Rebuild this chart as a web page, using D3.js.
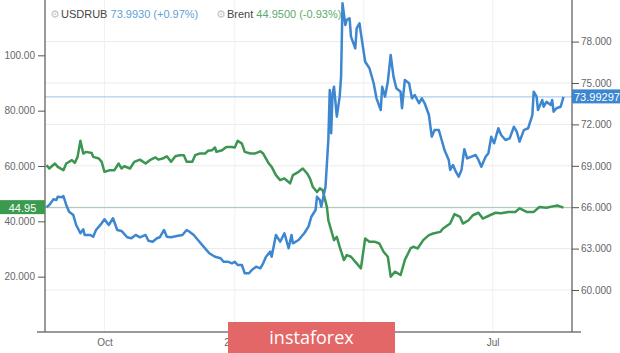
<!DOCTYPE html>
<html>
<head>
<meta charset="utf-8">
<script src="https://cdn.jsdelivr.net/npm/d3@7/dist/d3.min.js"></script>
<style>
  html, body { margin: 0; padding: 0; background: #fff; }
  svg { display: block; }
  text { font-family: "Liberation Sans", Arial, Helvetica, sans-serif; }
</style>
</head>
<body>
<svg id="chart" width="620" height="353"></svg>
<script>
// ---------- DATA ----------
const brentDates = ["2019-08-21","2019-08-23","2019-08-27","2019-08-29","2019-09-02","2019-09-04","2019-09-08","2019-09-10","2019-09-12","2019-09-14","2019-09-16","2019-09-18","2019-09-22","2019-09-23","2019-09-27","2019-09-29","2019-10-01","2019-10-05","2019-10-08","2019-10-11","2019-10-13","2019-10-15","2019-10-19","2019-10-22","2019-10-26","2019-10-30","2019-11-02","2019-11-06","2019-11-08","2019-11-11","2019-11-14","2019-11-17","2019-11-20","2019-11-23","2019-11-26","2019-11-28","2019-12-02","2019-12-04","2019-12-07","2019-12-11","2019-12-13","2019-12-16","2019-12-18","2019-12-19","2019-12-23","2019-12-26","2019-12-30","2020-01-01","2020-01-03","2020-01-06","2020-01-08","2020-01-12","2020-01-15","2020-01-19","2020-01-21","2020-01-25","2020-01-27","2020-01-30","2020-02-02","2020-02-05","2020-02-09","2020-02-11","2020-02-15","2020-02-18","2020-02-21","2020-02-23","2020-02-25","2020-02-28","2020-03-01","2020-03-03","2020-03-06","2020-03-07","2020-03-09","2020-03-11","2020-03-13","2020-03-15","2020-03-18","2020-03-20","2020-03-23","2020-03-27","2020-03-30","2020-04-02","2020-04-05","2020-04-09","2020-04-12","2020-04-15","2020-04-18","2020-04-20","2020-04-23","2020-04-27","2020-04-30","2020-05-04","2020-05-06","2020-05-09","2020-05-13","2020-05-17","2020-05-20","2020-05-25","2020-05-27","2020-06-01","2020-06-04","2020-06-08","2020-06-10","2020-06-14","2020-06-17","2020-06-21","2020-06-24","2020-06-29","2020-07-03","2020-07-07","2020-07-12","2020-07-17","2020-07-20","2020-07-25","2020-07-30","2020-08-03","2020-08-08","2020-08-13","2020-08-16","2020-08-20"];
const brentValues = [60.3,59.1,60.9,59.7,58.5,60.9,62.1,61.1,63.3,69.1,64.5,65.1,64.7,63.3,62.7,61.5,57.9,58.5,58.5,60.9,59.1,59.9,59.1,61.5,62.3,60.9,62.1,63.1,62.3,62.7,63.5,61.5,63.5,63.9,63.9,61.5,61.5,63.9,64.5,64.5,65.5,65.7,66.7,65.1,65.7,66.9,66.9,66.7,69.1,68.1,65.1,64.5,64.5,65.3,64.5,60.9,59.7,56.7,54.9,55.5,53.7,56.7,57.9,59.1,57.3,55.5,52.5,50.6,51.9,51.3,45.2,40.4,36.8,33.2,34.4,30.8,26.0,27.8,27.2,24.8,23.0,33.8,32.6,32.6,32.0,29.0,27.2,20.0,21.8,20.6,26.0,30.2,30.8,30.2,33.2,35.0,35.6,36.2,37.4,39.2,42.6,41.6,39.2,40.4,42.2,43.1,41.0,42.2,43.1,42.9,43.4,43.4,44.7,43.4,43.4,45.2,44.9,45.5,45.7,44.95];

const usdDates = ["2019-08-21","2019-08-23","2019-08-26","2019-08-28","2019-08-29","2019-09-01","2019-09-02","2019-09-04","2019-09-06","2019-09-09","2019-09-11","2019-09-14","2019-09-16","2019-09-17","2019-09-21","2019-09-23","2019-09-25","2019-09-29","2019-10-01","2019-10-04","2019-10-07","2019-10-10","2019-10-13","2019-10-17","2019-10-20","2019-10-23","2019-10-26","2019-10-30","2019-11-01","2019-11-04","2019-11-07","2019-11-09","2019-11-12","2019-11-14","2019-11-17","2019-11-21","2019-11-25","2019-11-28","2019-11-30","2019-12-03","2019-12-07","2019-12-11","2019-12-14","2019-12-18","2019-12-22","2019-12-24","2019-12-27","2019-12-30","2020-01-01","2020-01-03","2020-01-06","2020-01-08","2020-01-11","2020-01-13","2020-01-16","2020-01-19","2020-01-21","2020-01-23","2020-01-26","2020-01-27","2020-01-30","2020-02-02","2020-02-05","2020-02-08","2020-02-10","2020-02-11","2020-02-15","2020-02-19","2020-02-22","2020-02-24","2020-02-27","2020-02-28","2020-03-01","2020-03-02","2020-03-05","2020-03-06","2020-03-07","2020-03-08","2020-03-09","2020-03-10","2020-03-11","2020-03-13","2020-03-15","2020-03-16","2020-03-17","2020-03-19","2020-03-20","2020-03-22","2020-03-23","2020-03-26","2020-03-27","2020-03-29","2020-03-30","2020-04-02","2020-04-05","2020-04-08","2020-04-10","2020-04-13","2020-04-14","2020-04-16","2020-04-18","2020-04-20","2020-04-22","2020-04-24","2020-04-27","2020-04-28","2020-04-30","2020-05-03","2020-05-05","2020-05-07","2020-05-10","2020-05-12","2020-05-14","2020-05-17","2020-05-19","2020-05-21","2020-05-24","2020-05-26","2020-05-28","2020-05-31","2020-06-01","2020-06-03","2020-06-05","2020-06-07","2020-06-09","2020-06-11","2020-06-13","2020-06-16","2020-06-19","2020-06-21","2020-06-23","2020-06-26","2020-06-28","2020-06-30","2020-07-02","2020-07-05","2020-07-07","2020-07-10","2020-07-13","2020-07-16","2020-07-18","2020-07-20","2020-07-23","2020-07-26","2020-07-29","2020-07-30","2020-08-01","2020-08-02","2020-08-05","2020-08-06","2020-08-08","2020-08-11","2020-08-12","2020-08-13","2020-08-15","2020-08-18","2020-08-20"];
const usdValues = [66.0,66.16,66.57,66.52,66.76,66.72,66.81,66.16,65.67,65.43,64.71,64.11,64.40,63.99,63.99,63.86,64.35,64.83,65.12,64.71,65.20,64.35,64.28,63.82,63.75,63.99,63.82,63.99,63.57,63.50,63.75,63.82,64.35,63.86,63.82,63.91,63.99,64.35,64.22,63.99,63.50,63.02,62.66,62.41,62.30,62.05,62.05,61.93,62.05,61.81,61.81,61.21,61.21,61.45,61.69,61.57,61.93,62.41,62.78,62.41,63.99,63.50,64.11,63.02,63.99,63.38,63.62,64.11,64.59,65.31,65.80,66.76,66.52,66.04,67.49,69.18,70.87,74.49,71.36,74.25,74.73,72.56,74.01,75.46,80.78,79.20,79.57,79.69,78.36,77.51,78.96,79.33,78.60,76.54,76.07,74.98,73.89,73.04,74.73,74.01,75.09,77.03,75.46,74.62,74.37,73.17,75.22,74.98,73.89,74.13,73.53,73.89,73.53,72.68,71.11,71.59,71.59,70.87,70.14,69.42,68.70,69.06,68.57,68.21,68.70,70.20,69.54,69.66,69.78,69.42,68.93,69.66,69.91,71.11,70.63,71.72,71.23,70.87,70.99,71.83,71.47,70.75,71.59,71.72,72.68,74.37,74.01,73.04,73.77,73.28,73.64,73.41,73.77,72.92,73.17,73.28,73.993];

const leftTicks = [20, 40, 60, 80, 100];
const leftTickLabels = ["20.000", "40.000", "60.000", "80.000", "100.00"];
const rightTicks = [60, 63, 66, 69, 72, 75, 78];
const rightTickLabels = ["60.000", "63.000", "66.000", "69.000", "72.000", "75.000", "78.000"];
const xTickDates = ["2019-10-01", "2020-01-01", "2020-04-01", "2020-07-01"];
const xTickLabels = ["Oct", "2020", "Apr", "Jul"];

const usdName = "USDRUB", usdLegendValue = "73.9930 (+0.97%)", usdLast = 73.99297, usdLastLabel = "73.99297";
const brentName = "Brent", brentLegendValue = "44.9500 (-0.93%)", brentLast = 44.95, brentLastLabel = "44.95";

// ---------- LAYOUT ----------
const svg = d3.select("#chart");
const W = 620, H = 353;
const plotL = 45, plotR = 572, plotT = 0, plotB = 332;
const parse = d3.timeParse("%Y-%m-%d");

const x = d3.scaleTime()
  .domain([parse("2019-08-20"), parse("2020-08-26")])
  .range([plotL, plotR]);
const yL = d3.scaleLinear().domain([0, 120]).range([plotB, plotT]);
const yR = d3.scaleLinear().domain([60 - (plotB - 290) / 13.8, 60 + 290 / 13.8]).range([plotB, plotT]);

const blue = "#3d86d0", green = "#3c9550";

// gridlines
const grid = svg.append("g");
grid.selectAll("line.h").data(rightTicks).join("line")
  .attr("x1", plotL).attr("x2", plotR)
  .attr("y1", d => yR(d)).attr("y2", d => yR(d))
  .attr("stroke", "#ebebeb").attr("stroke-width", 1);
grid.selectAll("line.v").data(xTickDates).join("line")
  .attr("x1", d => x(parse(d))).attr("x2", d => x(parse(d)))
  .attr("y1", plotT).attr("y2", plotB)
  .attr("stroke", "#f1f1f1").attr("stroke-width", 1);

// reference lines
svg.append("line").attr("x1", plotL).attr("x2", plotR)
  .attr("y1", yR(usdLast)).attr("y2", yR(usdLast))
  .attr("stroke", "#9cc2e8").attr("stroke-width", 1);
svg.append("line").attr("x1", plotL).attr("x2", plotR)
  .attr("y1", yL(brentLast)).attr("y2", yL(brentLast))
  .attr("stroke", "#a6c6ae").attr("stroke-width", 1);

// series
const brentData = brentDates.map((d, i) => ({ date: parse(d), v: brentValues[i] }));
const usdData = usdDates.map((d, i) => ({ date: parse(d), v: usdValues[i] }));

svg.append("path").datum(brentData)
  .attr("fill", "none").attr("stroke", green).attr("stroke-width", 2.5)
  .attr("stroke-linejoin", "round")
  .attr("d", d3.line().x(d => x(d.date)).y(d => yL(d.v)));
svg.append("path").datum(usdData)
  .attr("fill", "none").attr("stroke", blue).attr("stroke-width", 2.5)
  .attr("stroke-linejoin", "round")
  .attr("d", d3.line().x(d => x(d.date)).y(d => yR(d.v)));

// axes
const axisColor = "#555";
const leftAxis = d3.axisLeft(yL).tickValues(leftTicks)
  .tickFormat((d, i) => leftTickLabels[i]).tickSize(7).tickPadding(3);
const gL = svg.append("g").attr("transform", `translate(${plotL},0)`).call(leftAxis);
const rightAxis = d3.axisRight(yR).tickValues(rightTicks)
  .tickFormat((d, i) => rightTickLabels[i]).tickSize(7).tickPadding(2);
const gR = svg.append("g").attr("transform", `translate(${plotR},0)`).call(rightAxis);
const bottomAxis = d3.axisBottom(x).tickValues(xTickDates.map(parse))
  .tickFormat((d, i) => xTickLabels[i]).tickSize(0).tickPadding(7);
const gB = svg.append("g").attr("transform", `translate(0,${plotB})`).call(bottomAxis);

[gL, gR, gB].forEach(g => {
  g.select(".domain").remove();
  g.selectAll(".tick line").attr("stroke", axisColor);
  g.selectAll(".tick text").attr("fill", "#666").style("font-size", "10px")
    .style("font-family", "'Liberation Sans', Arial, sans-serif");
});
// axis lines
svg.append("line").attr("x1", plotL).attr("x2", plotL).attr("y1", plotT).attr("y2", plotB)
  .attr("stroke", axisColor).attr("stroke-width", 1.2);
svg.append("line").attr("x1", plotR).attr("x2", plotR).attr("y1", plotT).attr("y2", plotB)
  .attr("stroke", axisColor).attr("stroke-width", 1.2);
svg.append("line").attr("x1", plotL - 8).attr("x2", plotR + 9).attr("y1", plotB).attr("y2", plotB)
  .attr("stroke", "#777").attr("stroke-width", 1.4);

// last value labels
const ry = yR(usdLast);
svg.append("rect").attr("x", plotR).attr("y", ry - 7.5).attr("width", W - plotR).attr("height", 14)
  .attr("fill", "#3b86cf");
svg.append("text").attr("x", plotR + 2).attr("y", ry + 4).attr("fill", "#fff")
  .style("font-size", "11px").text(usdLastLabel);
const ly = yL(brentLast);
svg.append("rect").attr("x", 0).attr("y", ly - 7.5).attr("width", plotL).attr("height", 14)
  .attr("fill", "#3a9a4e");
svg.append("text").attr("x", plotL / 2).attr("y", ly + 4).attr("text-anchor", "middle")
  .attr("fill", "#fff").style("font-size", "11px").text(brentLastLabel);

// legend
const legend = svg.append("g").style("font-size", "11px");
function legendItem(x0, name, val, color) {
  legend.append("text").attr("x", x0).attr("y", 18).attr("fill", "#c4c4c4")
    .style("font-family", "'DejaVu Sans', sans-serif").style("font-size", "11px").text("\u2699");
  const t = legend.append("text").attr("x", x0 + 11).attr("y", 18);
  t.append("tspan").attr("fill", "#444").text(name + " ");
  t.append("tspan").attr("fill", color).text(val);
}
legendItem(50, usdName, usdLegendValue, "#5e9fd6");
legendItem(216, brentName, brentLegendValue, "#5aab6b");

// watermark
svg.append("rect").attr("x", 228).attr("y", 322).attr("width", 167).attr("height", 31)
  .attr("fill", "#e46767");
svg.append("text").attr("x", 311.5).attr("y", 344).attr("text-anchor", "middle")
  .attr("fill", "#fff").style("font-family", "'Open Sans', Roboto, sans-serif")
  .style("font-size", "18px").text("instaforex");
</script>
</body>
</html>
